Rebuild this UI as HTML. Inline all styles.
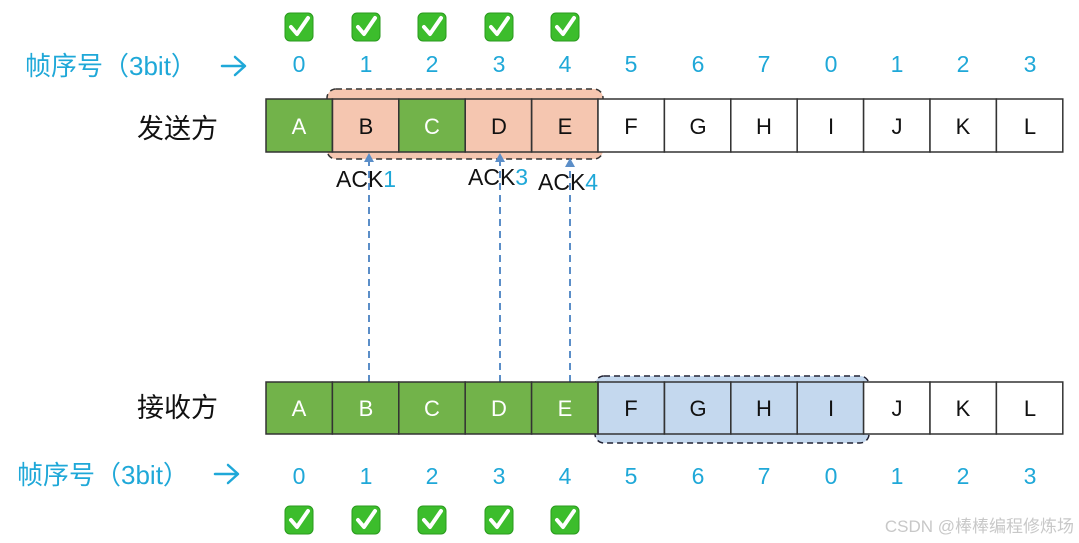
<!DOCTYPE html>
<html><head><meta charset="utf-8"><style>
html,body{margin:0;padding:0;background:#fff;}
svg{display:block;}
.n{font-family:"Liberation Sans","Noto Sans CJK SC",sans-serif;font-size:23px;fill:#1fa8d8;text-anchor:middle;}
.c{font-family:"Liberation Sans",sans-serif;font-size:22px;text-anchor:middle;}
.z{font-family:"Liberation Sans","Noto Sans CJK SC",sans-serif;}
</style></head><body>
<svg width="1079" height="543" viewBox="0 0 1079 543" xmlns="http://www.w3.org/2000/svg">
<defs>
<g id="chk"><rect x="-14" y="-14" width="28" height="28" rx="5" fill="#3cbd2c" stroke="#2a9a1e" stroke-width="1"/><path d="M-8 0 L-2 7 L9 -9" fill="none" stroke="#fff" stroke-width="4" stroke-linecap="round" stroke-linejoin="round"/></g>
<g id="arr"><path d="M0 0 H22 M13 -9 L23 0 L13 9" fill="none" stroke="#1fa8d8" stroke-width="2.5" stroke-linecap="round" stroke-linejoin="round"/></g>
</defs>
<use href="#chk" x="299" y="27"/><use href="#chk" x="366" y="27"/><use href="#chk" x="432" y="27"/><use href="#chk" x="499" y="27"/><use href="#chk" x="565" y="27"/>
<text x="25" y="75" class="z" font-size="26" fill="#1fa8d8">帧序号（3bit）</text>
<use href="#arr" x="222" y="66"/>
<g class="n">
<text x="299" y="72">0</text><text x="366" y="72">1</text><text x="432" y="72">2</text><text x="499" y="72">3</text><text x="565" y="72">4</text><text x="631" y="72">5</text><text x="698" y="72">6</text><text x="764" y="72">7</text><text x="831" y="72">0</text><text x="897" y="72">1</text><text x="963" y="72">2</text><text x="1030" y="72">3</text>
</g>
<text x="137" y="138" class="z" font-size="27" fill="#111">发送方</text>
<rect x="327" y="89" width="276" height="70" rx="9" fill="#f5c6b0" stroke="#333" stroke-width="1.5" stroke-dasharray="6,4"/>
<g stroke="#333" stroke-width="1.5">
<rect x="266" y="99" width="66.4" height="53" fill="#72b34a"/>
<rect x="332.4" y="99" width="66.4" height="53" fill="none"/>
<rect x="398.8" y="99" width="66.4" height="53" fill="#72b34a"/>
<rect x="465.2" y="99" width="66.4" height="53" fill="none"/>
<rect x="531.6" y="99" width="66.4" height="53" fill="none"/>
<rect x="598" y="99" width="66.4" height="53" fill="#fff"/>
<rect x="664.4" y="99" width="66.4" height="53" fill="#fff"/>
<rect x="730.8" y="99" width="66.4" height="53" fill="#fff"/>
<rect x="797.2" y="99" width="66.4" height="53" fill="#fff"/>
<rect x="863.6" y="99" width="66.4" height="53" fill="#fff"/>
<rect x="930" y="99" width="66.4" height="53" fill="#fff"/>
<rect x="996.4" y="99" width="66.4" height="53" fill="#fff"/>
</g>
<g class="c" fill="#111">
<text x="299" y="134" fill="#fff">A</text><text x="366" y="134">B</text><text x="432" y="134" fill="#fff">C</text><text x="499" y="134">D</text><text x="565" y="134">E</text><text x="631" y="134">F</text><text x="698" y="134">G</text><text x="764" y="134">H</text><text x="831" y="134">I</text><text x="897" y="134">J</text><text x="963" y="134">K</text><text x="1030" y="134">L</text>
</g>
<g stroke="#5b8ec8" stroke-width="2" stroke-dasharray="7,5" fill="none">
<line x1="369" y1="382" x2="369" y2="160"/><line x1="500" y1="382" x2="500" y2="160"/><line x1="570" y1="382" x2="570" y2="166"/>
</g>
<g fill="#5b8ec8"><path d="M364 162 L369 153 L374 162Z"/><path d="M495 162 L500 153 L505 162Z"/><path d="M565 167 L570 158 L575 167Z"/></g>
<g font-family="Liberation Sans,sans-serif" font-size="23">
<text x="336" y="187" fill="#111">ACK<tspan fill="#1fa8d8">1</tspan></text>
<text x="468" y="185" fill="#111">ACK<tspan fill="#1fa8d8">3</tspan></text>
<text x="538" y="190" fill="#111">ACK<tspan fill="#1fa8d8">4</tspan></text>
</g>
<text x="137" y="417" class="z" font-size="27" fill="#111">接收方</text>
<rect x="595" y="376" width="274" height="67" rx="9" fill="#c4d8ee" stroke="#223" stroke-width="1.5" stroke-dasharray="6,4"/>
<g stroke="#333" stroke-width="1.5">
<rect x="266" y="382" width="66.4" height="52" fill="#72b34a"/>
<rect x="332.4" y="382" width="66.4" height="52" fill="#72b34a"/>
<rect x="398.8" y="382" width="66.4" height="52" fill="#72b34a"/>
<rect x="465.2" y="382" width="66.4" height="52" fill="#72b34a"/>
<rect x="531.6" y="382" width="66.4" height="52" fill="#72b34a"/>
<rect x="598" y="382" width="66.4" height="52" fill="none"/>
<rect x="664.4" y="382" width="66.4" height="52" fill="none"/>
<rect x="730.8" y="382" width="66.4" height="52" fill="none"/>
<rect x="797.2" y="382" width="66.4" height="52" fill="none"/>
<rect x="863.6" y="382" width="66.4" height="52" fill="#fff"/>
<rect x="930" y="382" width="66.4" height="52" fill="#fff"/>
<rect x="996.4" y="382" width="66.4" height="52" fill="#fff"/>
</g>
<g class="c" fill="#fff">
<text x="299" y="416">A</text><text x="366" y="416">B</text><text x="432" y="416">C</text><text x="499" y="416">D</text><text x="565" y="416">E</text>
</g>
<g class="c" fill="#111">
<text x="631" y="416">F</text><text x="698" y="416">G</text><text x="764" y="416">H</text><text x="831" y="416">I</text><text x="897" y="416">J</text><text x="963" y="416">K</text><text x="1030" y="416">L</text>
</g>
<text x="17" y="484" class="z" font-size="26" fill="#1fa8d8">帧序号（3bit）</text>
<use href="#arr" x="215" y="474"/>
<g class="n">
<text x="299" y="484">0</text><text x="366" y="484">1</text><text x="432" y="484">2</text><text x="499" y="484">3</text><text x="565" y="484">4</text><text x="631" y="484">5</text><text x="698" y="484">6</text><text x="764" y="484">7</text><text x="831" y="484">0</text><text x="897" y="484">1</text><text x="963" y="484">2</text><text x="1030" y="484">3</text>
</g>
<use href="#chk" x="299" y="520"/><use href="#chk" x="366" y="520"/><use href="#chk" x="432" y="520"/><use href="#chk" x="499" y="520"/><use href="#chk" x="565" y="520"/>
<text x="1074" y="532" class="z" font-size="17" fill="#c8c8c8" text-anchor="end">CSDN @棒棒编程修炼场</text>
</svg>
</body></html>
